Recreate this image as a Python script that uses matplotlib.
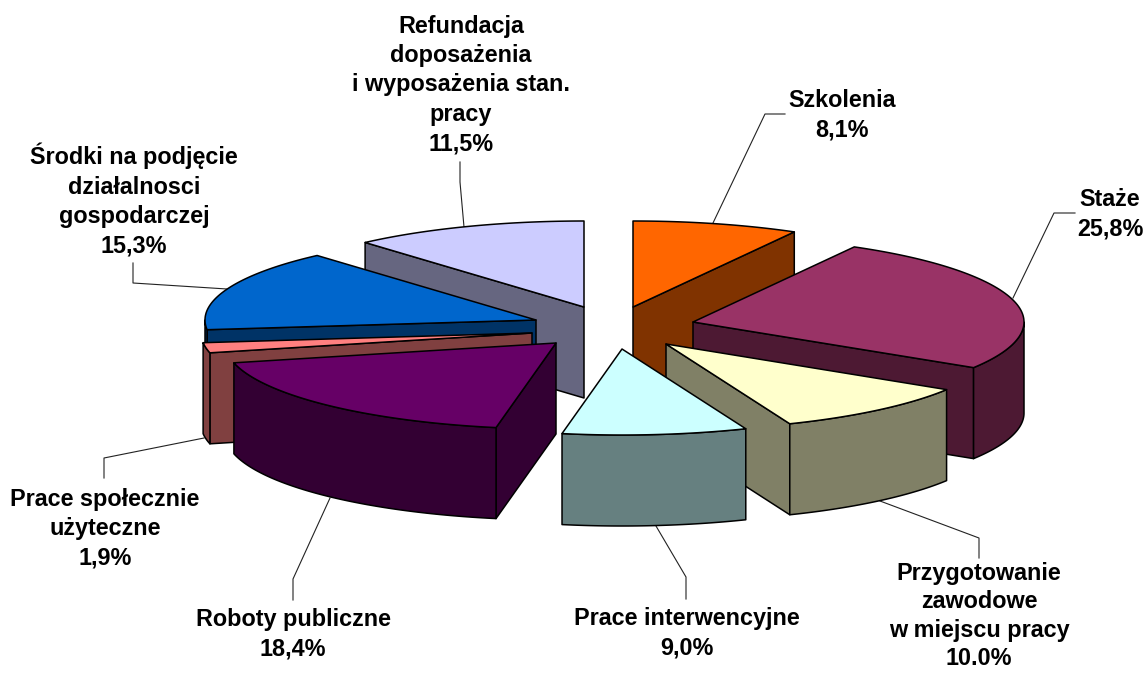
import numpy as np
import matplotlib
matplotlib.use("Agg")
import matplotlib.pyplot as plt
from matplotlib.patches import Polygon

plt.rcParams['font.family'] = ['Liberation Sans', 'DejaVu Sans']

# kolejnosc jak na wykresie, zgodnie z zegarem od godziny 12
labels = [
    "Szkolenia\n8,1%",
    "Staże\n25,8%",
    "Przygotowanie\nzawodowe\nw miejscu pracy\n10.0%",
    "Prace interwencyjne\n9,0%",
    "Roboty publiczne\n18,4%",
    "Prace społecznie\nużyteczne\n1,9%",
    "Środki na podjęcie\ndziałalnosci\ngospodarczej\n15,3%",
    "Refundacja\ndoposażenia\ni wyposażenia stan.\npracy\n11,5%",
]
values = [8.1, 25.8, 10.0, 9.0, 18.4, 1.9, 15.3, 11.5]

top_colors = ['#FF6600', '#993366', '#FFFFCC', '#CCFFFF', '#660066', '#FF8080', '#0066CC', '#CCCCFF']
side_colors = ['#803300', '#4D1933', '#808066', '#668080', '#330033', '#804040', '#003366', '#666680']

# uklad w pikselach
apex = [(633, 307), (693, 322), (666, 344), (622, 349), (556, 343), (532, 333), (536, 320), (584, 307)]
RX, RY, DEPTH = 331, 86, 91
draw_order = [7, 0, 6, 5, 1, 4, 2, 3]

label_pos = [(842, 115), (1110, 214), (979, 616), (687, 633), (293, 634), (105, 529), (134, 200), (461, 85)]
# etykieta przy dolnej krawedzi ma ciasniejsze wiersze, zeby sie zmiescila
label_spacing = [1.36, 1.36, 1.3, 1.36, 1.36, 1.36, 1.36, 1.36]
leaders = [
    [(713, 223), (765, 114), (785, 114)],
    [(1013, 298), (1054, 213), (1075, 213)],
    [(880, 501), (979, 538), (979, 558)],
    [(656, 526), (686, 577), (686, 599)],
    [(330, 498), (293, 579), (293, 600)],
    [(204, 438), (104, 458), (104, 478)],
    [(227, 289), (133, 283), (133, 263)],
    [(464, 227), (460, 182), (460, 162)],
]


def rim(cx, cy, a, b, n=80):
    t = np.radians(np.linspace(a, b, n))
    return np.column_stack([cx + RX * np.sin(t), cy - RY * np.cos(t)])


def draw_slice(ax, i, a, b):
    cx, cy = apex[i]
    kw = dict(edgecolor='black', linewidth=1.1, joinstyle='round')
    c = np.array([[cx, cy]])
    down = np.array([0, DEPTH])

    # sciany ciecia
    if np.sin(np.radians(a)) < -1e-6:
        p = rim(cx, cy, a, a, 1)
        ax.add_patch(Polygon(np.vstack([c, p, p + down, c + down]), facecolor=side_colors[i], **kw))
    if np.sin(np.radians(b)) > 1e-6:
        p = rim(cx, cy, b, b, 1)
        ax.add_patch(Polygon(np.vstack([c, p, p + down, c + down]), facecolor=side_colors[i], **kw))

    # sciana zewnetrzna, tylko przednia czesc
    lo, hi = max(a, 90), min(b, 270)
    if hi > lo:
        p = rim(cx, cy, lo, hi)
        ax.add_patch(Polygon(np.vstack([p, (p + down)[::-1]]), facecolor=side_colors[i], **kw))

    ax.add_patch(Polygon(np.vstack([c, rim(cx, cy, a, b)]), facecolor=top_colors[i], **kw))


fig = plt.figure(figsize=(11.45, 6.73), dpi=100)
ax = fig.add_axes([0, 0, 1, 1])
ax.set_xlim(0, 1145)
ax.set_ylim(673, 0)
ax.axis('off')

edges = np.concatenate([[0], np.cumsum(values)]) / np.sum(values) * 360

# linie odniesienia pod wycinkami
for line in leaders:
    xs, ys = zip(*line)
    ax.plot(xs, ys, color='#222222', lw=0.8, zorder=0)

for i in draw_order:
    draw_slice(ax, i, edges[i], edges[i + 1])

for text, (x, y), sp in zip(labels, label_pos, label_spacing):
    ax.text(x, y, text, ha='center', va='center', fontsize=16.8, fontweight='bold', linespacing=sp)

fig.savefig("out.png", dpi=100)
